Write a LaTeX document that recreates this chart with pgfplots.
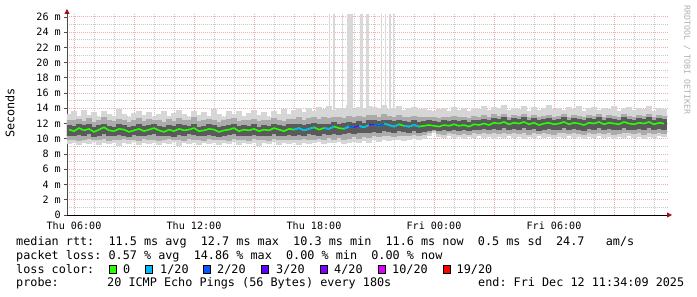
\documentclass[border=0pt]{standalone}
\usepackage{fontspec}
\setmainfont{DejaVu Sans Mono}
\usepackage{pgfplots}
\pgfplotsset{compat=1.18}
\usepackage{pgfplotstable}
\usetikzlibrary{arrows.meta}
\definecolor{lc0}{HTML}{26FF00}
\definecolor{lc1}{HTML}{00B8FF}
\definecolor{lc2}{HTML}{0059FF}
\definecolor{lc3}{HTML}{5E00FF}
\definecolor{lc4}{HTML}{7E00FF}
\definecolor{lc10}{HTML}{DD00FF}
\definecolor{lc19}{HTML}{FF0000}
\definecolor{majgrid}{HTML}{F0B0B0}
\definecolor{mingrid}{HTML}{C8C8C8}
\definecolor{arrowred}{HTML}{991111}
\definecolor{smokeA}{HTML}{D6D6D6}
\definecolor{smokeB}{HTML}{ABABAB}
\definecolor{smokeC}{HTML}{5A5A5A}
\definecolor{spike}{HTML}{D8D8D8}
\definecolor{wmark}{HTML}{B0B0B0}

\pgfplotstableread{
x m olo ohi mlo mhi clo chi
5.75 11.2 9.3 13.2 9.8 12.5 10.4 11.8
6.00 11.0 9.5 13.6 9.9 12.4 10.3 11.7
6.25 11.4 9.2 13.0 9.7 12.6 10.5 11.9
6.50 11.1 9.4 13.8 9.9 12.3 10.4 11.8
6.75 11.3 9.3 13.1 10.0 12.7 10.6 11.9
7.00 10.9 9.6 13.5 9.8 12.2 10.2 11.6
7.25 11.2 9.2 12.9 9.9 12.5 10.4 11.8
7.50 11.5 9.4 13.7 10.0 12.8 10.6 12.0
7.75 11.1 9.3 13.3 9.7 12.4 10.3 11.7
8.00 11.0 9.5 13.0 9.9 12.3 10.4 11.6
8.25 11.3 9.1 13.9 9.8 12.6 10.5 11.9
8.50 11.2 9.4 13.2 10.0 12.4 10.4 11.8
8.75 10.9 9.3 12.8 9.8 12.2 10.2 11.6
9.00 11.1 9.6 13.4 9.9 12.5 10.5 11.7
9.25 11.3 9.2 13.6 9.7 12.7 10.4 11.9
9.50 11.0 9.4 13.1 10.0 12.3 10.3 11.7
9.75 11.2 9.3 13.5 9.8 12.6 10.5 11.8
10.00 11.4 9.5 12.9 9.9 12.4 10.6 11.9
10.25 11.1 9.2 13.3 9.7 12.5 10.4 11.7
10.50 10.9 9.4 13.7 9.9 12.2 10.3 11.6
10.75 11.2 9.3 13.0 10.0 12.6 10.4 11.8
11.00 11.0 9.6 13.4 9.8 12.3 10.2 11.7
11.25 11.3 9.1 13.8 9.9 12.7 10.5 11.9
11.50 11.1 9.4 13.2 9.7 12.4 10.4 11.8
11.75 11.2 9.3 12.9 10.0 12.5 10.6 11.7
12.00 11.4 9.5 13.6 9.8 12.8 10.5 12.0
12.25 11.0 9.2 13.1 9.9 12.3 10.3 11.6
12.50 11.1 9.4 13.5 9.7 12.4 10.4 11.7
12.75 11.3 9.3 13.0 10.0 12.6 10.5 11.9
13.00 11.2 9.5 13.9 9.9 12.5 10.4 11.8
13.25 10.9 9.2 13.3 9.8 12.2 10.2 11.6
13.50 11.1 9.4 12.8 9.9 12.4 10.4 11.7
13.75 11.2 9.3 13.6 9.7 12.6 10.5 11.8
14.00 11.4 9.6 13.2 10.0 12.7 10.6 11.9
14.25 11.0 9.2 13.7 9.8 12.3 10.3 11.7
14.50 11.2 9.4 13.0 9.9 12.5 10.4 11.8
14.75 11.1 9.3 13.4 9.7 12.4 10.4 11.7
15.00 11.3 9.5 13.8 10.0 12.6 10.5 11.9
15.25 11.0 9.1 13.1 9.8 12.3 10.3 11.6
15.50 11.2 9.4 13.5 9.9 12.5 10.4 11.8
15.75 11.1 9.3 12.9 9.7 12.4 10.4 11.7
16.00 11.4 9.6 13.6 10.0 12.7 10.6 12.0
16.25 11.2 9.2 13.3 9.9 12.5 10.4 11.8
16.50 11.0 9.4 13.9 9.8 12.3 10.3 11.7
16.75 11.3 9.3 13.2 9.9 12.6 10.5 11.9
17.00 11.2 9.4 13.8 9.9 12.6 10.4 11.9
17.25 11.4 9.2 14.1 9.8 12.8 10.5 12.0
17.50 11.1 9.5 13.5 10.0 12.5 10.4 11.8
17.75 11.3 9.3 14.0 9.9 12.7 10.6 12.0
18.00 11.5 9.4 13.7 9.8 12.9 10.5 12.1
18.25 11.2 9.6 14.2 10.0 12.6 10.4 11.9
18.50 11.4 9.3 13.9 9.9 12.8 10.6 12.0
18.75 11.3 9.5 14.3 10.1 12.7 10.5 12.0
19.00 11.6 9.4 13.8 9.9 12.9 10.6 12.2
19.25 11.4 9.6 14.1 10.1 12.8 10.5 12.0
19.50 11.3 9.3 14.0 9.9 12.7 10.6 12.1
19.75 11.6 9.5 14.4 10.0 13.0 10.7 12.2
20.00 11.5 9.6 13.9 10.2 12.9 10.6 12.1
20.25 11.7 9.4 14.2 10.0 13.0 10.8 12.3
20.50 11.5 9.7 14.0 10.2 12.8 10.7 12.1
20.75 11.8 9.5 14.3 10.1 13.1 10.8 12.4
21.00 11.9 9.8 14.2 10.3 13.1 10.9 12.5
21.25 11.7 9.6 14.0 10.2 12.9 10.8 12.3
21.50 12.0 9.9 14.4 10.4 13.2 11.0 12.5
21.75 11.8 9.7 13.9 10.3 13.0 10.9 12.4
22.00 11.6 9.8 14.1 10.2 12.8 10.8 12.3
22.25 11.9 9.9 14.3 10.4 13.1 11.0 12.5
22.50 11.7 9.7 13.8 10.3 12.9 10.9 12.3
22.75 11.6 9.9 14.0 10.4 12.8 10.8 12.2
23.00 11.8 10.0 14.2 10.5 13.0 11.0 12.4
23.25 11.6 9.8 13.9 10.3 12.8 10.8 12.2
23.50 11.7 10.0 14.1 10.5 12.9 10.9 12.3
23.75 11.8 10.3 13.8 10.8 12.9 11.0 12.4
24.00 11.7 10.8 13.6 11.0 12.8 11.2 12.3
24.25 11.6 10.2 13.9 10.6 12.7 11.0 12.2
24.50 11.8 10.1 14.1 10.5 12.9 11.1 12.4
24.75 11.7 10.3 13.7 10.7 12.8 11.0 12.3
25.00 11.9 10.1 14.2 10.6 13.0 11.2 12.5
25.25 11.7 10.2 13.8 10.5 12.8 11.0 12.3
25.50 11.8 10.0 14.0 10.6 12.9 11.1 12.4
25.75 11.6 10.2 13.6 10.5 12.7 11.0 12.2
26.00 11.9 10.1 14.1 10.7 13.0 11.2 12.5
26.25 11.8 10.3 13.9 10.6 12.9 11.1 12.4
26.50 12.0 10.1 14.3 10.7 13.1 11.3 12.6
26.75 11.8 10.2 13.8 10.6 12.9 11.1 12.4
27.00 12.1 10.0 14.2 10.7 13.2 11.3 12.7
27.25 12.0 10.2 14.0 10.6 13.0 11.2 12.6
27.50 12.2 10.1 14.4 10.7 13.2 11.4 12.8
27.75 11.9 10.3 13.8 10.6 12.9 11.1 12.5
28.00 12.1 10.1 14.1 10.8 13.1 11.3 12.7
28.25 12.0 10.2 13.9 10.6 13.0 11.2 12.6
28.50 12.2 10.0 14.3 10.7 13.2 11.4 12.8
28.75 11.9 10.2 13.7 10.5 12.9 11.1 12.5
29.00 12.1 10.1 14.2 10.7 13.1 11.3 12.7
29.25 11.8 10.3 13.8 10.6 12.8 11.0 12.4
29.50 12.0 10.1 14.0 10.7 13.0 11.2 12.6
29.75 12.1 10.2 14.4 10.6 13.1 11.3 12.7
30.00 11.9 10.0 13.9 10.5 12.9 11.1 12.5
30.25 12.0 10.2 14.1 10.7 13.0 11.2 12.6
30.50 12.2 10.1 13.8 10.8 13.2 11.4 12.8
30.75 11.9 10.3 14.2 10.6 12.9 11.1 12.5
31.00 12.1 10.1 13.9 10.7 13.1 11.3 12.7
31.25 12.0 10.2 14.3 10.6 13.0 11.2 12.6
31.50 11.8 10.0 13.7 10.5 12.8 11.0 12.4
31.75 12.1 10.2 14.0 10.7 13.1 11.3 12.7
32.00 12.0 10.1 14.2 10.6 13.0 11.2 12.6
32.25 12.2 10.3 13.8 10.8 13.2 11.4 12.8
32.50 11.9 10.1 14.1 10.6 12.9 11.1 12.5
32.75 12.1 10.2 13.9 10.7 13.1 11.3 12.7
33.00 12.0 10.0 14.3 10.5 13.0 11.2 12.6
33.25 11.9 10.2 13.7 10.6 12.9 11.1 12.5
33.50 12.2 10.1 14.0 10.8 13.2 11.4 12.8
33.75 12.0 10.3 14.2 10.7 13.0 11.2 12.6
34.00 11.9 10.1 13.8 10.6 12.9 11.1 12.5
34.25 12.1 10.2 14.1 10.7 13.1 11.3 12.7
34.50 12.0 10.0 13.9 10.5 13.0 11.2 12.6
34.75 12.2 10.2 14.3 10.8 13.2 11.4 12.8
35.00 11.9 10.1 13.7 10.6 12.9 11.1 12.5
35.25 12.1 10.3 14.0 10.7 13.1 11.3 12.7
35.50 12.0 10.2 13.9 10.6 13.0 11.2 12.6
}\smoke

\pgfplotstableread{
x c e
18.77 19.95 6.45
19.00 19.95 6.45
19.43 19.95 6.45
20.65 19.95 6.45
20.73 19.95 6.45
21.38 19.95 6.45
21.58 19.95 6.45
21.80 19.95 6.45
21.97 19.95 6.45
}\spikes

\pgfplotstableread{
x c e
19.80 19.95 6.45
}\blockA

\pgfplotstableread{
x c e
20.38 19.95 6.45
}\blockB

\pgfplotsset{
  smokebar/.style 2 args={draw=none, no markers, forget plot,
    error bars/.cd, y dir=both, y explicit, error mark=none,
    error bar style={draw=#1, solid, line width=#2}},
}

\begin{document}
\frenchspacing
\begin{tikzpicture}
\useasboundingbox (0pt,0pt) rectangle (697pt,297pt);
\begin{axis}[
  at={(67pt,82pt)}, anchor=south west,
  scale only axis, width=601pt, height=202pt,
  xmin=5.65, xmax=35.7, ymin=0, ymax=26.5,
  axis lines=left,
  x axis line style={black, line width=0.8pt, shorten >=-4pt, -{Triangle[length=5pt,width=5pt,color=arrowred]}},
  y axis line style={black!70, line width=0.8pt, shorten >=-4pt, -{Triangle[length=5pt,width=5pt,color=arrowred]}},
  xtick={6,9,...,33},
  xticklabels={Thu 06:00,,Thu 12:00,,Thu 18:00,,Fri 00:00,,Fri 06:00,},
  minor xtick={7,8,10,11,13,14,16,17,19,20,22,23,25,26,28,29,31,32,34,35},
  ytick={0,2,...,26},
  yticklabels={0,2 m,4 m,6 m,8 m,10 m,12 m,14 m,16 m,18 m,20 m,22 m,24 m,26 m},
  minor ytick={1,3,...,25},
  grid=both,
  major grid style={majgrid, line width=0.8pt, dash pattern=on 0.8pt off 1.2pt},
  minor grid style={mingrid, line width=0.8pt, dash pattern=on 0.8pt off 1.2pt},
  tick align=outside,
  major tick length=3pt, minor tick length=0pt,
  xtick style={draw=none},
  ytick style={black!70, line width=0.6pt},
  tick label style={font=\fontsize{10.1}{12}\selectfont, text=black},
  yticklabel style={inner sep=0pt, xshift=-3pt},
  xticklabel style={inner sep=0pt, yshift=-4pt, anchor=north},
  clip=true,
]
% spikes
\addplot[smokebar={spike}{1.2pt}] table[x=x, y=c, y error=e] {\spikes};
\addplot[smokebar={spike}{6pt}] table[x=x, y=c, y error=e] {\blockA};
\addplot[smokebar={spike}{3.5pt}] table[x=x, y=c, y error=e] {\blockB};
% smoke outer
\addplot[smokebar={smokeA}{5.2pt}]
  table[x=x, y=m, y error plus expr=\thisrow{ohi}-\thisrow{m}, y error minus expr=\thisrow{m}-\thisrow{olo}] {\smoke};
% smoke mid
\addplot[smokebar={smokeB}{5.2pt}]
  table[x=x, y=m, y error plus expr=\thisrow{mhi}-\thisrow{m}, y error minus expr=\thisrow{m}-\thisrow{mlo}] {\smoke};
% smoke core
\addplot[smokebar={smokeC}{5.2pt}]
  table[x=x, y=m, y error plus expr=\thisrow{chi}-\thisrow{m}, y error minus expr=\thisrow{m}-\thisrow{clo}] {\smoke};
% median, loss 0
\addplot[lc0, solid, line width=1.6pt, no markers] table[x=x, y=m] {\smoke};
% loss overlays
\addplot[lc1, solid, line width=1.6pt, no markers, restrict x to domain=17:18] table[x=x, y=m] {\smoke};
\addplot[lc1, solid, line width=1.6pt, no markers, restrict x to domain=18.5:19] table[x=x, y=m] {\smoke};
\addplot[lc1, solid, line width=1.6pt, no markers, restrict x to domain=19.5:19.75] table[x=x, y=m] {\smoke};
\addplot[lc1, solid, line width=1.6pt, no markers, restrict x to domain=20.25:20.75] table[x=x, y=m] {\smoke};
\addplot[lc1, solid, line width=1.6pt, no markers, restrict x to domain=21.5:22.25] table[x=x, y=m] {\smoke};
\addplot[lc1, solid, line width=1.6pt, no markers, restrict x to domain=22.5:23.25] table[x=x, y=m] {\smoke};
\addplot[lc2, solid, line width=1.6pt, no markers, restrict x to domain=19.75:20] table[x=x, y=m] {\smoke};
\addplot[lc2, solid, line width=1.6pt, no markers, restrict x to domain=21:21.5] table[x=x, y=m] {\smoke};
\addplot[lc3, solid, line width=1.6pt, no markers, restrict x to domain=20:20.25] table[x=x, y=m] {\smoke};
\addplot[lc3, solid, line width=1.6pt, no markers, restrict x to domain=20.75:21] table[x=x, y=m] {\smoke};
\end{axis}

% y label
\node[rotate=90, font=\fontsize{11.8}{14}\selectfont, inner sep=0pt] at (10pt,184pt) {Seconds};
% watermark
\node[rotate=-90, font=\fontsize{8.3}{10}\selectfont, text=wmark, inner sep=0pt] at (687pt,237pt) {RRDTOOL / TOBI OETIKER};

% legend text
\begin{scope}[every node/.style={font=\fontsize{11.8}{14}\selectfont, inner sep=0pt, anchor=base west}]
\node at (16pt,51.5pt) {median rtt:~~11.5 ms avg~~12.7 ms max~~10.3 ms min~~11.6 ms now~~0.5 ms sd~~24.7~~~am/s};
\node at (16pt,37.7pt) {packet loss: 0.57 \% avg~~14.86 \% max~~0.00 \% min~~0.00 \% now};
\node at (16pt,23.7pt) {loss color:};
\node at (123pt,23.7pt) {0};
\node at (160pt,23.7pt) {1/20};
\node at (217pt,23.7pt) {2/20};
\node at (276pt,23.7pt) {3/20};
\node at (334pt,23.7pt) {4/20};
\node at (392pt,23.7pt) {10/20};
\node at (456.5pt,23.7pt) {19/20};
\node at (16pt,10pt) {probe:};
\node at (107pt,10pt) {20 ICMP Echo Pings (56 Bytes) every 180s};
\node at (478pt,10pt) {end: Fri Dec 12 11:34:09 2025};
\end{scope}
% legend boxes
\foreach \c/\xx in {lc0/109.3, lc1/145.8, lc2/203.5, lc3/261.8, lc4/320.2, lc10/378.5, lc19/443}{
  \filldraw[fill=\c, draw=black, line width=0.7pt] (\xx pt,23.5pt) rectangle ++(7pt,8.3pt);
}
\end{tikzpicture}
\end{document}
